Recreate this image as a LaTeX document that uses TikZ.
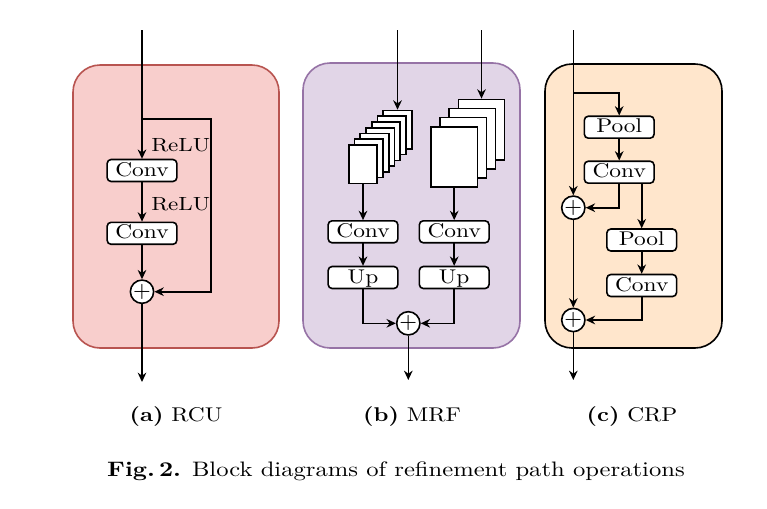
\documentclass[tikz,border=0pt]{standalone}
\usetikzlibrary{arrows.meta,positioning}
\definecolor{RcuFill}{HTML}{F8CECC}
\definecolor{RcuLine}{HTML}{B85450}
\definecolor{MrfFill}{HTML}{E1D5E7}
\definecolor{MrfLine}{HTML}{9673A6}
\definecolor{CrpFill}{HTML}{FFE6CC}

\begin{document}
\begin{tikzpicture}[%
    x=0.406pt, y=-0.406pt,%
    line width=0.65pt,%
    flow/.style={-{Stealth[length=3.8pt,width=3.5pt]}}%
  ]
  \tikzset{%
    squash/.style={yscale=0.85, transform shape},%
    block/.style={squash, draw, fill=white, rounded corners=1.6pt, minimum width=28.3pt,%
      inner xsep=0pt, inner ysep=0.95pt, text height=7pt, text depth=1.6pt,%
      font=\fontsize{9.5}{10}\selectfont},%
    tag/.style={squash, inner sep=0pt, font=\fontsize{9.1}{10}\selectfont},%
    sum/.style={draw, circle, fill=white, minimum size=9pt, inner sep=0pt,%
      font=\fontsize{8.6}{9}\selectfont},%
    sheet/.style={draw, fill=white, inner sep=0pt},%
    panel/.style={rounded corners=11pt},%
    subcap/.style={squash, font=\fontsize{9.5}{11}\selectfont}%
  }%
  \useasboundingbox (0,0) rectangle (767,508);%

  %
  % RCU
  %
  \path[panel, fill=RcuFill, draw=RcuLine] (73,65) rectangle (279,348);%
  \coordinate (rcu in) at (142,30);%
  \coordinate (rcu out) at (142,382);%
  \coordinate (rcu split) at (142,119);%
  \coordinate (rcu skip) at (211,119);%
  \node[block] (rcu conv1) at (142,170.5) {Conv};%
  \node[block] (rcu conv2) at (142,233.3) {Conv};%
  \node[sum] (rcu sum) at (142,291.7) {$+$};%
  \node[tag, anchor=base west] (rcu relu1) at (150.5,151) {ReLU};%
  \node[tag, anchor=base west] (rcu relu2) at (150.5,210.7) {ReLU};%
  \draw[flow] (rcu in) -- (rcu conv1);%
  \draw[flow] (rcu conv1) -- (rcu conv2);%
  \draw[flow] (rcu conv2) -- (rcu sum);%
  \draw[flow] (rcu sum) -- (rcu out);%
  \draw[flow] (rcu split) -- (rcu skip) |- (rcu sum);%

  %
  % MRF
  %
  \path[panel, fill=MrfFill, draw=MrfLine] (303,63) rectangle (520,348);%
  % Cartes de features
  \foreach \i in {6,5,...,0} {%
      \node[sheet, minimum width=11.6pt, minimum height=15.6pt] (mrf a\i)%
      at (363+5.75*\i, 164.2-5.75*\i) {};%
    }%
  \foreach \i in {3,2,1,0} {%
      \node[sheet, minimum width=18.8pt, minimum height=24.6pt] (mrf b\i)%
      at (454.2+9.1*\i, 157-9.1*\i) {};%
    }%
  \coordinate (mrf in a) at (397.5,30);%
  \coordinate (mrf in b) at (481.5,30);%
  \coordinate (mrf out) at (408.3,380);%
  \node[block] (mrf conv a) at (363,231.8) {Conv};%
  \node[block] (mrf up a) at (363,277.5) {Up};%
  \node[block] (mrf conv b) at (454.2,231.8) {Conv};%
  \node[block] (mrf up b) at (454.2,277.5) {Up};%
  \node[sum] (mrf sum) at (408.3,323.3) {$+$};%
  \draw[flow] (mrf in a) -- (mrf a6);%
  \draw[flow] (mrf in b) -- (mrf b3);%
  \draw[flow] (mrf a0) -- (mrf conv a);%
  \draw[flow] (mrf b0) -- (mrf conv b);%
  \draw[flow] (mrf conv a) -- (mrf up a);%
  \draw[flow] (mrf conv b) -- (mrf up b);%
  \draw[flow] (mrf up a) |- (mrf sum);%
  \draw[flow] (mrf up b) |- (mrf sum);%
  \draw[flow] (mrf sum) -- (mrf out);%

  %
  % CRP
  %
  \path[panel, fill=CrpFill, draw=black] (545,64) rectangle (722,348);%
  \coordinate (crp in) at (573.3,30);%
  \coordinate (crp split) at (573.3,92.7);%
  \coordinate (crp out) at (573.3,380);%
  \node[block] (crp pool1) at (619.2,127.2) {Pool};%
  \node[block] (crp conv1) at (619.2,172.2) {Conv};%
  \node[sum] (crp sum1) at (573.3,207.7) {$+$};%
  \node[block] (crp pool2) at (641.7,240) {Pool};%
  \node[block] (crp conv2) at (641.7,285.5) {Conv};%
  \node[sum] (crp sum2) at (573.3,320) {$+$};%
  \draw[flow] (crp in) -- (crp sum1);%
  \draw[flow] (crp split) -| (crp pool1);%
  \draw[flow] (crp pool1) -- (crp conv1);%
  \draw[flow] (crp conv1) |- (crp sum1);%
  \draw[flow] (crp conv1.south -| crp pool2) -- (crp pool2);%
  \draw[flow] (crp pool2) -- (crp conv2);%
  \draw[flow] (crp conv2) |- (crp sum2);%
  \draw[flow] (crp sum1) -- (crp sum2);%
  \draw[flow] (crp sum2) -- (crp out);%

  % Legendes
  \node[subcap, anchor=base] (cap rcu) at (176,421) {\textbf{(a)} RCU};%
  \node[subcap, anchor=base] (cap mrf) at (412,421) {\textbf{(b)} MRF};%
  \node[subcap, anchor=base] (cap crp) at (632,421) {\textbf{(c)} CRP};%
  \node[squash, anchor=base] (fig cap) at (396,476)%
  {\textbf{Fig.\,2.} Block diagrams of refinement path operations};%
\end{tikzpicture}
\end{document}
